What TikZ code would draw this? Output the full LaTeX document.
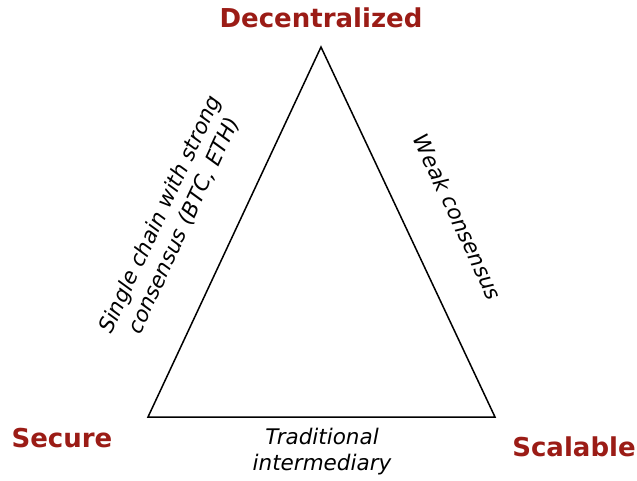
\documentclass[tikz,border=0pt]{standalone}
\usepackage{fontspec}
\setmainfont{DejaVu Sans}
\definecolor{darkred}{RGB}{155,28,22}
\begin{document}
\begin{tikzpicture}[x=1pt,y=1pt,
  corner/.style={font=\fontsize{26}{30}\selectfont\bfseries,text=darkred,inner sep=0pt},
  note/.style={font=\fontsize{21.5}{26}\selectfont\itshape,align=center,inner sep=0pt}]
\useasboundingbox (0,0) rectangle (637,-480);
\coordinate (S) at (148,-417);
\coordinate (D) at (321,-47);
\coordinate (C) at (495,-417);

\draw[line width=1.5pt,line join=miter] (S) -- (D) -- (C) -- cycle;

\node[corner] (dec) at (321,-18) {Decentralized};
\node[corner] (sec) at (62,-438) {Secure};
\node[corner] (sca) at (574,-447) {Scalable};

\node[note,rotate=65] (strong) at (172,-220) {Single chain with strong\\consensus (BTC, ETH)};
\node[note,rotate=-65] (weak) at (458,-217) {Weak consensus};
\node[note] (trad) at (322,-452) {Traditional\\intermediary};
\end{tikzpicture}
\end{document}
